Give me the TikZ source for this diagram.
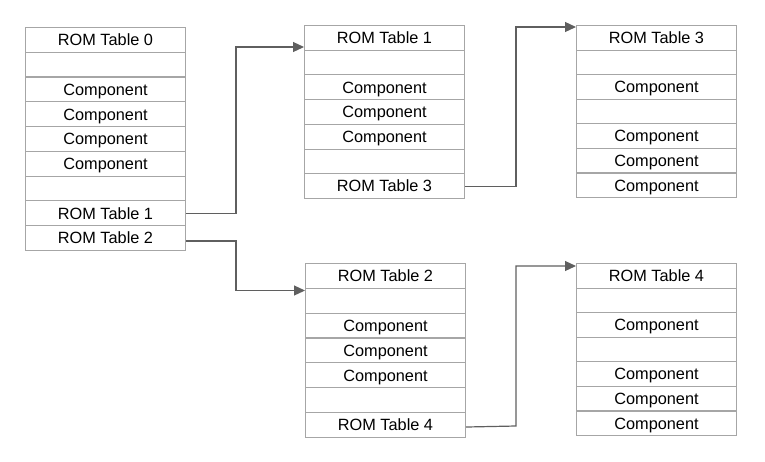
\documentclass[tikz,border=0pt]{standalone}
\usepackage{fontspec}
\setmainfont{Liberation Sans}
\usetikzlibrary{calc,arrows.meta}
\definecolor{boxgray}{HTML}{A6A6A6}
\definecolor{linegray}{HTML}{5F5F5F}
\tikzset{
  cell/.style={draw=boxgray, line width=1pt, rectangle, minimum width=160pt, minimum height=24.7pt,
    inner sep=0pt, text height=11.7pt, text depth=0pt, anchor=north west,
    font=\fontsize{16.3}{19}\selectfont, text=black},
  conn/.style={draw=linegray, line width=1.2pt, -{Triangle[length=11pt,width=10pt]}},
}
\begin{document}
\begin{tikzpicture}[x=1pt,y=-1pt]
\useasboundingbox (0,0) rectangle (765,461);
% Table 0
\foreach \t [count=\i] in {ROM Table 0,{},Component,Component,Component,Component,{},ROM Table 1,ROM Table 2}
  \node[cell] (t0r\i) at (25,{27+(\i-1)*24.78}) {\t};
% Table 1
\foreach \t [count=\i] in {ROM Table 1,{},Component,Component,Component,{},ROM Table 3}
  \node[cell] (t1r\i) at (304,{25+(\i-1)*24.71}) {\t};
% Table 3
\foreach \t [count=\i] in {ROM Table 3,{},Component,{},Component,Component,Component}
  \node[cell] (t3r\i) at (576,{25+(\i-1)*24.57}) {\t};
% Table 2
\foreach \t [count=\i] in {ROM Table 2,{},Component,Component,Component,{},ROM Table 4}
  \node[cell] (t2r\i) at (305,{263+(\i-1)*24.86}) {\t};
% Table 4
\foreach \t [count=\i] in {ROM Table 4,{},Component,{},Component,Component,Component}
  \node[cell] (t4r\i) at (576,{263+(\i-1)*24.57}) {\t};
% connectors
\draw[conn] (t0r8.east) -- ++(50,0) |- (t1r1.west |- 0,47);
\draw[conn] ($(t0r9.east)+(0,3)$) -- ++(50,0) |- (t2r1.west |- 0,290.5);
\draw[conn] (t1r7.east) -- ++(51,0) |- (t3r1.west |- 0,27);
\draw[conn] ($(t2r7.east)+(0,2)$) -- (516,426) |- (t4r1.west |- 0,266);
\end{tikzpicture}
\end{document}
